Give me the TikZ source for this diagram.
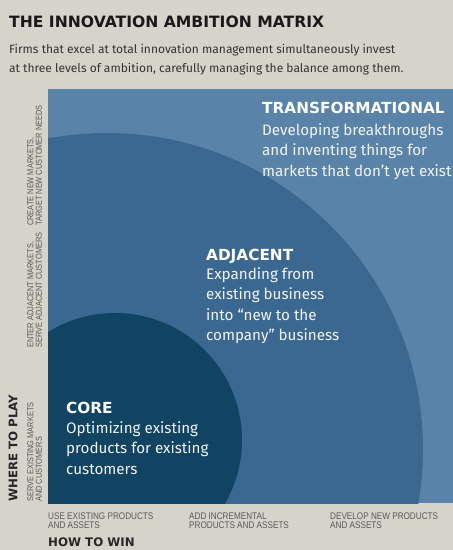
\documentclass[tikz,border=0pt]{standalone}
\usepackage{fontspec}
\setmainfont{Fira Sans}
\newfontfamily\headfont{DejaVu Sans}
\newfontfamily\axisfont{Liberation Sans}[FakeStretch=0.85]
\definecolor{paper}{RGB}{214,211,203}
\definecolor{transblue}{RGB}{90,131,170}
\definecolor{adjblue}{RGB}{59,104,144}
\definecolor{coreblue}{RGB}{17,67,99}
\definecolor{inkgrey}{RGB}{88,88,88}
\tikzset{
  head/.style={anchor=base west, inner sep=0, text=white,
    font=\headfont\bfseries\fontsize{15.3}{15}\selectfont},
  blurb/.style={anchor=base west, inner sep=0, align=left, text=white!92!transblue,
    font=\fontsize{15.2}{20.5}\selectfont},
  axislabel/.style={inner sep=0, align=left, text=inkgrey,
    font=\axisfont\fontsize{8.7}{8.5}\selectfont},
  axistitle/.style={anchor=west, inner sep=0, text=black!85,
    font=\headfont\bfseries\fontsize{11.8}{11.8}\selectfont}
}

\begin{document}
\begin{tikzpicture}[x=1pt,y=-1pt]
\fill[paper] (0,0) rectangle (453,550);
\useasboundingbox (0,0) rectangle (453,550);
\node[anchor=base west, inner sep=0, text=black!90, font=\headfont\bfseries\fontsize{15.6}{15}\selectfont] (title) at (9,27) {THE INNOVATION AMBITION MATRIX};
\node[anchor=base west, inner sep=0, align=left, text=black!80, font=\fontsize{12}{19.5}\selectfont] (subtitle) at (9,72.5) {Firms that excel at total innovation management simultaneously invest\\at three levels of ambition, carefully managing the balance among them.};
\begin{scope}
\clip (48,89) rectangle (453,503);
\fill[transblue] (48,89) rectangle (453,503);
\fill[adjblue] (107,449) circle[radius=316];
\fill[coreblue] (115,440) circle[radius=127];
\end{scope}
\node[head] (trans) at (262,113) {TRANSFORMATIONAL};
\node[blurb] (transtext) at (262,176) {Developing breakthroughs\\and inventing things for\\markets that don't yet exist};
\node[head] (adj) at (206,260) {ADJACENT};
\node[blurb] (adjtext) at (206,340.5) {Expanding from\\existing business\\into ``new to the\\company'' business};
\node[head] (core) at (66,413) {CORE};
\node[blurb] (coretext) at (66,474) {Optimizing existing\\products for existing\\customers};
\foreach \y/\lab [count=\i] in {502/{SERVE EXISTING MARKETS\\AND CUSTOMERS},348/{ENTER ADJACENT MARKETS,\\SERVE ADJACENT CUSTOMERS},226/{CREATE NEW MARKETS,\\TARGET NEW CUSTOMER NEEDS}}
    \node[axislabel, rotate=90, anchor=north west] (play\i) at (27,\y) {\lab};
\foreach \x/\lab [count=\i] in {48/{USE EXISTING PRODUCTS\\AND ASSETS},189/{ADD INCREMENTAL\\PRODUCTS AND ASSETS},330/{DEVELOP NEW PRODUCTS\\AND ASSETS}}
    \node[axislabel, anchor=north west, font=\axisfont\fontsize{9.6}{9}\selectfont] (win\i) at (\x,513) {\lab};
\node[axistitle, rotate=90] (where) at (13,502) {WHERE TO PLAY};
\node[axistitle] (how) at (48,542) {HOW TO WIN};
\end{tikzpicture}
\end{document}
